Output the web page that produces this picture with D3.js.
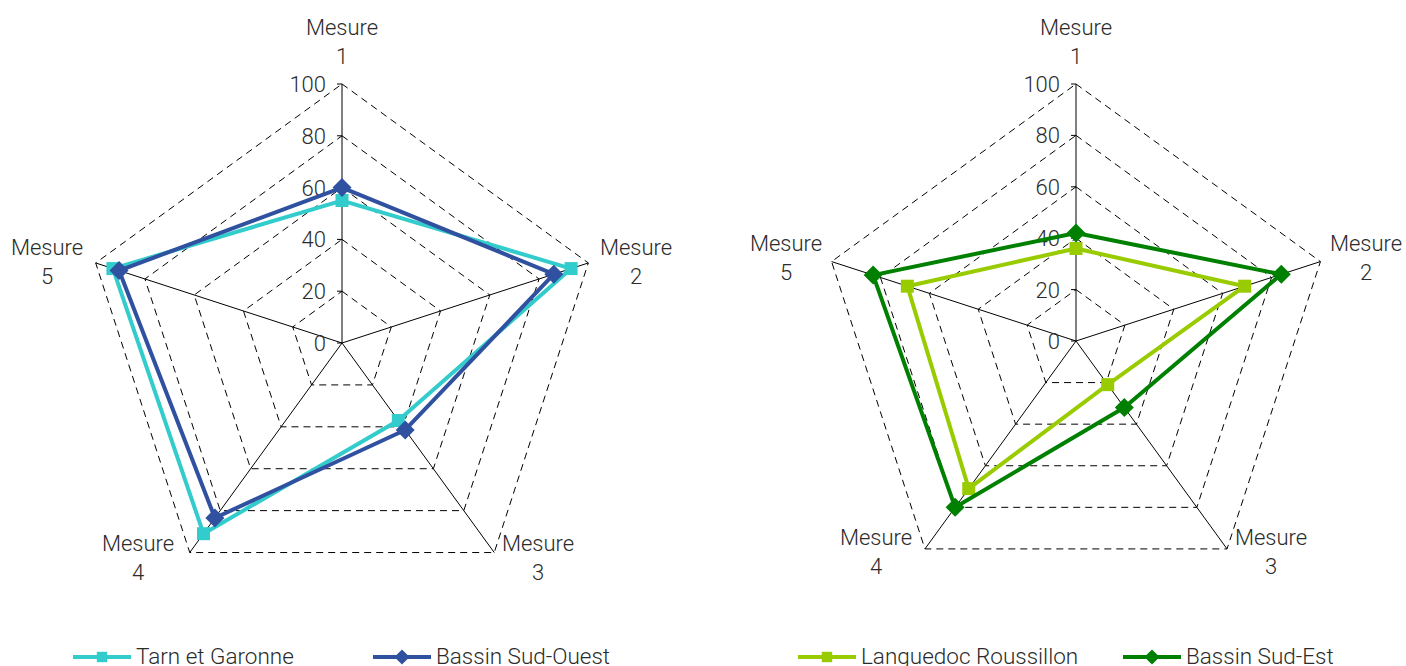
<!DOCTYPE html>
<html>
<head>
<meta charset="utf-8">
<script src="https://cdn.jsdelivr.net/npm/d3@7"></script>
<style>
  html, body { margin: 0; padding: 0; background: #fff; }
  svg { display: block; }
  text { font-family: Roboto, "DejaVu Sans", sans-serif; font-weight: 300; fill: #2b2b2b; }
</style>
</head>
<body>
<svg id="chart" width="1406" height="666"></svg>
<script>
// Axis categories and tick labels
const categories = ["Mesure 1", "Mesure 2", "Mesure 3", "Mesure 4", "Mesure 5"];
const tickValues = [0, 20, 40, 60, 80, 100];

// Series values (one value per axis)
const tarnEtGaronne = [55, 93, 37, 91, 93];
const bassinSudOuest = [60, 86, 41.5, 83.5, 90.5];
const languedocRoussillon = [36, 69, 21, 71, 69];
const bassinSudEst = [42, 84, 32, 80, 83];

const svg = d3.select("#chart");

const panels = [
  {
    cx: 342, cy: 343, radius: 259,
    series: [
      { name: "Tarn et Garonne", values: tarnEtGaronne, color: "#33CCCC", marker: "square" },
      { name: "Bassin Sud-Ouest", values: bassinSudOuest, color: "#3050A0", marker: "diamond" }
    ],
    labelPos: [[342, 35], [636, 255], [538, 551], [138, 551], [47, 255]],
    legend: [{ x: 73, textX: 136 }, { x: 373, textX: 436 }]
  },
  {
    cx: 1076, cy: 341, radius: 257,
    series: [
      { name: "Languedoc Roussillon", values: languedocRoussillon, color: "#99CC00", marker: "square" },
      { name: "Bassin Sud-Est", values: bassinSudEst, color: "#008000", marker: "diamond" }
    ],
    labelPos: [[1076, 35], [1366, 251], [1271, 545], [876, 545], [786, 251]],
    legend: [{ x: 798, textX: 861 }, { x: 1123, textX: 1186 }]
  }
];

function markerPath(type, small) {
  const k = small ? 0.8 : 1;
  if (type === "square") return `M${-6.5 * k},${-6.5 * k}H${6.5 * k}V${6.5 * k}H${-6.5 * k}Z`;
  return `M0,${-9.5 * k}L${9.5 * k},0L0,${9.5 * k}L${-9.5 * k},0Z`;
}

panels.forEach(p => {
  const g = svg.append("g").attr("transform", `translate(${p.cx},${p.cy})`);
  const r = d3.scaleLinear().domain([0, 100]).range([0, p.radius]);
  const angle = d3.scalePoint().domain(categories).range([0, 2 * Math.PI * 4 / 5]);
  const pt = (cat, v) => {
    const a = angle(cat);
    return [Math.sin(a) * r(v), -Math.cos(a) * r(v)];
  };

  // Dashed pentagon gridlines
  tickValues.filter(t => t > 0).forEach(t => {
    g.append("path")
      .attr("d", d3.line()(categories.map(c => pt(c, t))) + "Z")
      .attr("fill", "none")
      .attr("stroke", "#000")
      .attr("stroke-width", 1)
      .attr("stroke-dasharray", "7,5");
  });

  // Radial axes
  categories.forEach(c => {
    const [x, y] = pt(c, 100);
    g.append("line")
      .attr("x1", 0).attr("y1", 0).attr("x2", x).attr("y2", y)
      .attr("stroke", "#000").attr("stroke-width", 1);
  });

  // Value tick marks and labels along the first axis
  tickValues.forEach(t => {
    g.append("line")
      .attr("x1", -5).attr("x2", 0)
      .attr("y1", -r(t)).attr("y2", -r(t))
      .attr("stroke", "#000").attr("stroke-width", 1);
    g.append("text")
      .attr("x", -16).attr("y", -r(t))
      .attr("dy", "0.36em")
      .attr("text-anchor", "end")
      .attr("font-size", 22)
      .text(t);
  });

  // Series lines and markers
  p.series.forEach(s => {
    const pts = categories.map((c, i) => pt(c, s.values[i]));
    g.append("path")
      .attr("d", d3.line()(pts) + "Z")
      .attr("fill", "none")
      .attr("stroke", s.color)
      .attr("stroke-width", 4)
      .attr("stroke-linejoin", "round");
    g.selectAll(null).data(pts).enter().append("path")
      .attr("transform", d => `translate(${d[0]},${d[1]})`)
      .attr("d", markerPath(s.marker))
      .attr("fill", s.color);
  });

  // Category labels (two lines)
  categories.forEach((c, i) => {
    const [lx, ly] = p.labelPos[i];
    const parts = c.split(" ");
    const t = svg.append("text")
      .attr("x", lx).attr("y", ly)
      .attr("text-anchor", "middle")
      .attr("font-size", 22);
    t.append("tspan").attr("x", lx).text(parts[0]);
    t.append("tspan").attr("x", lx).attr("dy", 29).text(parts[1]);
  });

  // Legend
  p.series.forEach((s, i) => {
    const L = p.legend[i];
    const ly = 657;
    svg.append("line")
      .attr("x1", L.x).attr("x2", L.x + 58)
      .attr("y1", ly).attr("y2", ly)
      .attr("stroke", s.color).attr("stroke-width", 4);
    svg.append("path")
      .attr("transform", `translate(${L.x + 29},${ly})`)
      .attr("d", markerPath(s.marker, true))
      .attr("fill", s.color);
    svg.append("text")
      .attr("x", L.textX).attr("y", 664)
      .attr("font-size", 22.5)
      .text(s.name);
  });
});
</script>
</body>
</html>
